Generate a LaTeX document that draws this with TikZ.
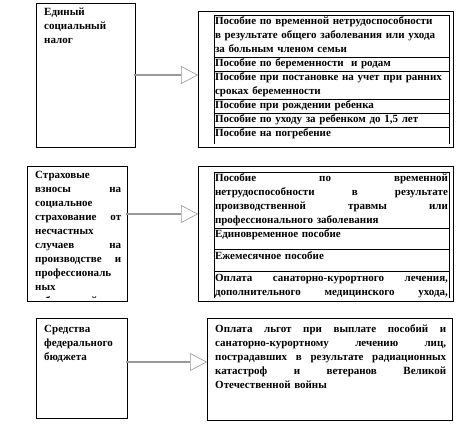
\documentclass[tikz,border=0pt]{standalone}
\usepackage{fontspec}
\setmainfont{Liberation Serif}
\usetikzlibrary{positioning,shapes.arrows}
\newcommand\txt{\fontsize{11}{14}\selectfont\bfseries}

\begin{document}
\begin{tikzpicture}[x=1pt,y=-1pt,
  box/.style={draw, line width=.8pt, anchor=north west, inner sep=0pt},
  lbl/.style={anchor=north west, inner sep=0pt, align=left, font=\txt},
  row/.style={draw, line width=.7pt, text width=233, inner xsep=1, inner ysep=0, outer sep=0, align=left, font=\txt},
  blockarr/.style={single arrow, draw=gray!80, line width=.6pt, single arrow head extend=4.5pt, single arrow tip angle=56, minimum width=17, inner sep=0pt, anchor=tip}]
\useasboundingbox (0,0) rectangle (464,437);

\node[box, minimum width=99, minimum height=144] (L1) at (36,3) {};
\node[lbl, text width=84] (t1) at ([shift={(8,2)}]L1.north west) {\strut Единый\\ социальный\\ налог};
\node[box, minimum width=255, minimum height=136] (R1) at (198,11) {};
\begin{scope}
\clip (R1.north west) rectangle ([yshift=4pt]R1.south east);
\node[row, anchor=north west] (r11) at (214,15) {\strut Пособие по временной нетрудоспособности\\ в результате общего заболевания или ухода\\ за больным членом семьи\strut};
\node[row, below=0pt of r11] (r12) {\strut Пособие по беременности~ и родам\strut};
\node[row, below=0pt of r12] (r13) {\strut Пособие при постановке на учет при ранних\\ сроках беременности\strut};
\node[row, below=0pt of r13] (r14) {\strut Пособие при рождении ребенка\strut};
\node[row, below=0pt of r14] (r15) {\strut Пособие по уходу за ребенком до 1,5 лет\strut};
\node[row, below=0pt of r15, text depth=20] (r16) {\strut Пособие на погребение\strut};
\end{scope}
\node[blockarr, minimum height=63] (a1) at (R1.west |- 0,75) {};

\node[box, minimum width=100, minimum height=135] (L2) at (27,166) {};
\begin{scope}
\clip (L2.north west) rectangle ([yshift=4pt]L2.south east);
\node[lbl, text width=86] (t2) at ([shift={(8,2)}]L2.north west) {\strut Страховые\\ взносы\hfill на\\ социальное\\ страхование\hfill от\\ несчастных\\ случаев\hfill на\\ производстве\hfill и\\ профессиональ\\ ных\\ заболеваний};
\end{scope}
\node[box, minimum width=255, minimum height=135] (R2) at (198,166) {};
\begin{scope}
\clip (R2.north west) rectangle ([yshift=4pt]R2.south east);
\node[row, anchor=north west] (r21) at (214,172) {\strut Пособие\hfill по\hfill временной\\ нетрудоспособности\hfill в\hfill результате\\ производственной\hfill травмы\hfill или\\ профессионального заболевания\strut};
\node[row, below=0pt of r21, text depth=12] (r22) {\strut Единовременное пособие};
\node[row, below=0pt of r22, text depth=12] (r23) {\strut Ежемесячное пособие};
\node[row, below=0pt of r23, text depth=20] (r24) {\strut Оплата\hfill санаторно-курортного\hfill лечения,\\ дополнительного\hfill медицинского\hfill ухода,};
\end{scope}
\node[blockarr, minimum height=71] (a2) at (R2.west |- 0,214) {};

\node[box, minimum width=91, minimum height=100] (L3) at (36,318) {};
\node[lbl, text width=76] (t3) at ([shift={(8,4)}]L3.north west) {\strut Средства\\ федерального\\ бюджета};
\node[box, minimum width=245, minimum height=102] (R3) at (207,318) {};
\node[lbl, text width=231] (t4) at ([shift={(8,4)}]R3.north west) {\strut Оплата\hfill льгот\hfill при\hfill выплате\hfill пособий\hfill и\\ санаторно-курортному\hfill лечению\hfill лиц,\\ пострадавших\hfill в\hfill результате\hfill радиационных\\ катастроф\hfill и\hfill ветеранов\hfill Великой\\ Отечественной войны};
\node[blockarr, minimum height=80] (a3) at (R3.west |- 0,362) {};
\end{tikzpicture}
\end{document}
